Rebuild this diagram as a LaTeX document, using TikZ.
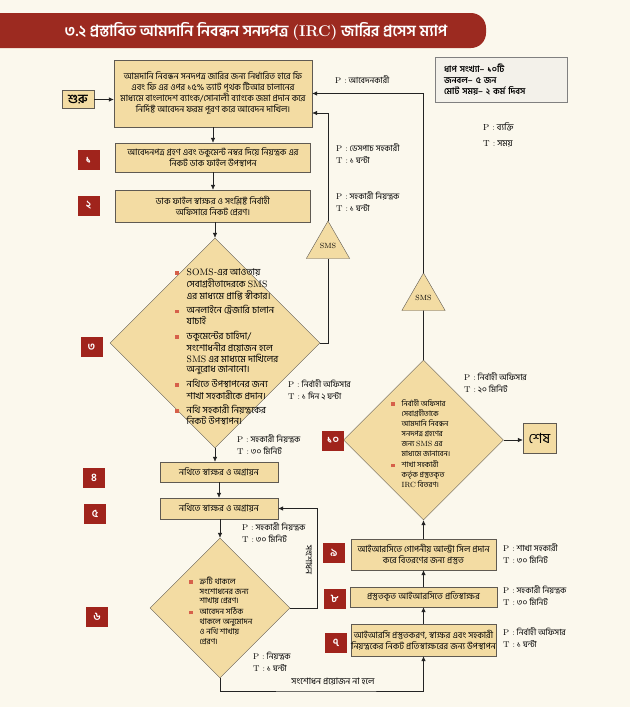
\documentclass[tikz,border=0pt]{standalone}
\usepackage{fontspec}
\newfontfamily\bn[Script=Bengali]{Hind Siliguri}
\usetikzlibrary{shapes.geometric,arrows.meta}
\definecolor{paper}{RGB}{251,248,237}
\definecolor{boxfill}{RGB}{243,220,163}
\definecolor{boxline}{RGB}{95,90,82}
\definecolor{badgered}{RGB}{160,36,28}
\definecolor{titlered}{RGB}{156,42,32}
\definecolor{bulred}{RGB}{214,96,74}
\definecolor{infofill}{RGB}{243,241,234}
\definecolor{arrowc}{RGB}{35,35,35}
\newcommand{\lat}[1]{{\rmfamily #1}}
\newcommand{\bsq}{\textcolor{bulred}{\rule[0.5pt]{3.5pt}{3.5pt}}}

\begin{document}
\begin{tikzpicture}[x=1pt,y=-1pt,
  proc/.style={draw=boxline,fill=boxfill,align=center,inner sep=0pt,font=\bn\fontsize{8.8}{11}\selectfont},
  badge/.style={fill=badgered,text=white,minimum width=22pt,minimum height=20pt,inner sep=0pt,font=\bn\bfseries\fontsize{11}{11}\selectfont},
  dec/.style={diamond,draw=boxline,fill=boxfill,inner sep=0pt},
  dectext/.style={anchor=west,inner sep=0pt},
  sms/.style={regular polygon,regular polygon sides=3,draw=boxline,fill=boxfill,minimum size=50pt,inner sep=0pt,font=\fontsize{7.5}{7.5}\selectfont},
  who/.style={anchor=west,align=left,inner sep=0pt,font=\bn\fontsize{8.4}{12}\selectfont},
  flow/.style={draw=arrowc,line width=0.6pt,-{Latex[length=5pt,width=4.5pt]}},
  link/.style={draw=arrowc,line width=0.6pt}]
\newcommand{\badge}[3]{\node[badge] (#1) at (#2) {#3};}
\useasboundingbox (0,0) rectangle (630,707);
\fill[paper] (0,0) rectangle (630,707);

% title band
\fill[titlered,rounded corners=15pt] (-20,13) rectangle (486,48);
\node[font=\bn\bfseries\fontsize{15.5}{15.5}\selectfont,text=white] (title) at (256,31)
  {৩.২ প্রস্তাবিত আমদানি নিবন্ধন সনদপত্র \lat{(IRC)} জারির প্রসেস ম্যাপ};

\node[draw=gray,fill=infofill,minimum width=132pt,minimum height=45pt,text width=114pt,inner xsep=9pt,align=left,font=\bn\bfseries\fontsize{8.8}{11}\selectfont] (info) at (501,79.5)
  {ধাপ সংখ্যা– ১০টি\\জনবল– ৫ জন\\মোট সময়– ২ কর্ম দিবস};
\node[who,font=\bn\fontsize{8.8}{16}\selectfont] (legend) at (483,135) {\lat{P :} ব্যক্তি\\\lat{T :} সময়};

% left column
\node[proc,minimum width=32pt,minimum height=18pt,font=\bn\bfseries\fontsize{12.5}{12.5}\selectfont] (start) at (78,99.5) {শুরু};
\node[proc,minimum width=198pt,minimum height=67pt] (b0) at (213,93.5)
  {আমদানি নিবন্ধন সনদপত্র জারির জন্য নির্ধারিত হারে ফি\\এবং ফি এর ওপর ১৫\% ভ্যাট পৃথক টিআর চালানের\\মাধ্যমে বাংলাদেশ ব্যাংক/সোনালী ব্যাংকে জমা প্রদান করে\\নির্দিষ্ট আবেদন ফরম পূরণ করে আবেদন দাখিল।};
\node[proc,minimum width=195pt,minimum height=29pt] (b1) at (213,157.5)
  {আবেদনপত্র গ্রহণ এবং ডকুমেন্ট নম্বর দিয়ে নিয়ন্ত্রক এর\\নিকট ডাক ফাইল উপস্থাপন};
\node[proc,minimum width=195pt,minimum height=32pt] (b2) at (213,206)
  {ডাক ফাইল স্বাক্ষর ও সংশ্লিষ্ট নির্বাহী\\অফিসারে নিকট প্রেরণ।};
\node[dec,minimum width=210pt,minimum height=210pt] (d3) at (215,343) {};
\node[dectext,font=\bn\fontsize{9.4}{10}\selectfont] (d3txt) at (175,348) {\begin{tabular}{@{}l@{\hspace{8pt}}l@{}}
  \bsq & \lat{SOMS}-এর আওতায়\\ & সেবাগ্রহীতাদেরকে \lat{SMS}\\ & এর মাধ্যমে প্রাপ্তি স্বীকার।\\[3.5pt]
  \bsq & অনলাইনে ট্রেজারি চালান\\ & যাচাই\\[3.5pt]
  \bsq & ডকুমেন্টের চাহিদা/\\ & সংশোধনীর প্রয়োজন হলে\\ & \lat{SMS} এর মাধ্যমে দাখিলের\\ & অনুরোধ জানানো।\\[3.5pt]
  \bsq & নথিতে উপস্থাপনের জন্য\\ & শাখা সহকারীকে প্রদান।\\[2.5pt]
  \bsq & নথি সহকারী নিয়ন্ত্রকের\\ & নিকট উপস্থাপন।
  \end{tabular}};
\node[proc,minimum width=118pt,minimum height=20pt] (b4) at (219,472) {নথিতে স্বাক্ষর ও অগ্রায়ন};
\node[proc,minimum width=118pt,minimum height=21pt] (b5) at (219,508.5) {নথিতে স্বাক্ষর ও অগ্রায়ন};
\node[dec,minimum width=140pt,minimum height=140pt] (d6) at (220,608) {};
\node[dectext,font=\bn\fontsize{8}{9.7}\selectfont] (d6txt) at (189,612) {\begin{tabular}{@{}l@{\hspace{7pt}}l@{}}
  \bsq & ত্রুটি থাকলে\\ & সংশোধনের জন্য\\ & শাখায় প্রেরণ।\\[1pt]
  \bsq & আবেদন সঠিক\\ & থাকলে অনুমোদন\\ & ও নথি শাখায়\\ & প্রেরণ।
  \end{tabular}};

\badge{n1}{88.5,160}{১}
\badge{n2}{88.5,205.5}{২}
\badge{n3}{91.5,347}{৩}
\badge{n4}{94,477.5}{৪}
\badge{n5}{95,513.5}{৫}
\badge{n6}{97,616.5}{৬}

% right column
\node[sms] (tri1) at (328,246) {SMS};
\node[sms] (tri2) at (423.5,298) {SMS};
\node[dec,minimum width=160pt,minimum height=160pt] (d10) at (423.5,440) {};
\node[dectext,font=\bn\fontsize{7.5}{10}\selectfont] (d10txt) at (391,445) {\begin{tabular}{@{}l@{\hspace{7pt}}l@{}}
  \bsq & নির্বাহী অফিসার\\ & সেবাগ্রহীতাকে\\ & আমদানি নিবন্ধন\\ & সনদপত্র গ্রহণের\\ & জন্য \lat{SMS} এর\\ & মাধ্যমে জানাবেন।\\[1pt]
  \bsq & শাখা সহকারী\\ & কর্তৃক প্রস্তুতকৃত\\ & \lat{IRC} বিতরণ।
  \end{tabular}};
\node[proc,minimum width=33pt,minimum height=30pt,font=\bn\fontsize{14}{14}\selectfont] (stop) at (539.5,438) {শেষ};
\node[proc,minimum width=145pt,minimum height=31pt] (b9) at (423.5,554.5)
  {আইআরসিতে গোপনীয় আল্ট্রা সিল প্রদান\\করে বিতরণের জন্য প্রস্তুত};
\node[proc,minimum width=147pt,minimum height=20pt] (b8) at (423.5,597) {প্রস্তুতকৃত আইআরসিতে প্রতিস্বাক্ষর};
\node[proc,minimum width=144pt,minimum height=32pt] (b7) at (423.5,640)
  {আইআরসি প্রস্তুতকরণ, স্বাক্ষর এবং সহকারী\\নিয়ন্ত্রকের নিকট প্রতিস্বাক্ষরের জন্য উপস্থাপন};

\badge{n7}{336,643}{৭}
\badge{n8}{334.5,599}{৮}
\badge{n9}{334,553}{৯}
\badge{n10}{333,440.5}{১০}

% P and T
\node[who] (p0) at (335,80) {\lat{P :} আবেদনকারী};
\node[who] (p1) at (336,154) {\lat{P :} ডেসপাচ সহকারী\\\lat{T :} ১ ঘন্টা};
\node[who] (p2) at (336,202) {\lat{P :} সহকারী নিয়ন্ত্রক\\\lat{T :} ১ ঘন্টা};
\node[who] (p3) at (288,390) {\lat{P :} নির্বাহী অফিসার\\\lat{T :} ১ দিন ২ ঘন্টা};
\node[who] (p4) at (237,445) {\lat{P :} সহকারী নিয়ন্ত্রক\\\lat{T :} ৩০ মিনিট};
\node[who] (p5) at (242,533) {\lat{P :} সহকারী নিয়ন্ত্রক\\\lat{T :} ৩০ মিনিট};
\node[who] (p6) at (253,662) {\lat{P :} নিয়ন্ত্রক\\\lat{T :} ১ ঘন্টা};
\node[who] (p10) at (464,383) {\lat{P :} নির্বাহী অফিসার\\\lat{T :} ২০ মিনিট};
\node[who] (p9) at (503,554) {\lat{P :} শাখা সহকারী\\\lat{T :} ৩০ মিনিট};
\node[who] (p8) at (503,596) {\lat{P :} সহকারী নিয়ন্ত্রক\\\lat{T :} ৩০ মিনিট};
\node[who] (p7) at (503,638) {\lat{P :} নির্বাহী অফিসার\\\lat{T :} ১ ঘন্টা};

% connectors
\coordinate (in2) at (b0.east |- 0,113);
\coordinate (fix) at (317,608);
\coordinate (ok) at (330,691);
\draw[flow] (start.east) -- (start.east -| b0.west);
\draw[flow] (b0) -- (b1);
\draw[flow] (b1) -- (b2);
\draw[flow] (b2.south -| d3.north) -- (d3.north);
\draw[link] (d3.east) -| (tri1.south);
\draw[flow] (tri1.north) |- (in2);
\draw[flow] (d3.south) -- (d3.south |- b4.north);
\draw[flow] (b4) -- (b5);
\draw[flow] (b5.south -| d6.north) -- (d6.north);
\draw[flow] (d6.east) -- (fix) |- (b5.east);
\node[rotate=-90,inner sep=0pt,font=\bn\fontsize{8.8}{8.8}\selectfont] (fixtxt) at (309,560) {সংশোধন};
\draw[flow] (d6.south) |- (ok) -| (b7.south);
\node[inner sep=0pt,font=\bn\fontsize{8.8}{8.8}\selectfont] (oktxt) at (333,682) {সংশোধন প্রয়োজন না হলে};
\draw[flow] (b7) -- (b8);
\draw[flow] (b8) -- (b9);
\draw[flow] (b9.north) -- (d10.south);
\draw[link] (d10.north) -- (tri2.south);
\draw[flow] (tri2.north) |- (b0.east);
\draw[flow] (d10.east) -- (d10.east -| stop.west);
\end{tikzpicture}
\end{document}
